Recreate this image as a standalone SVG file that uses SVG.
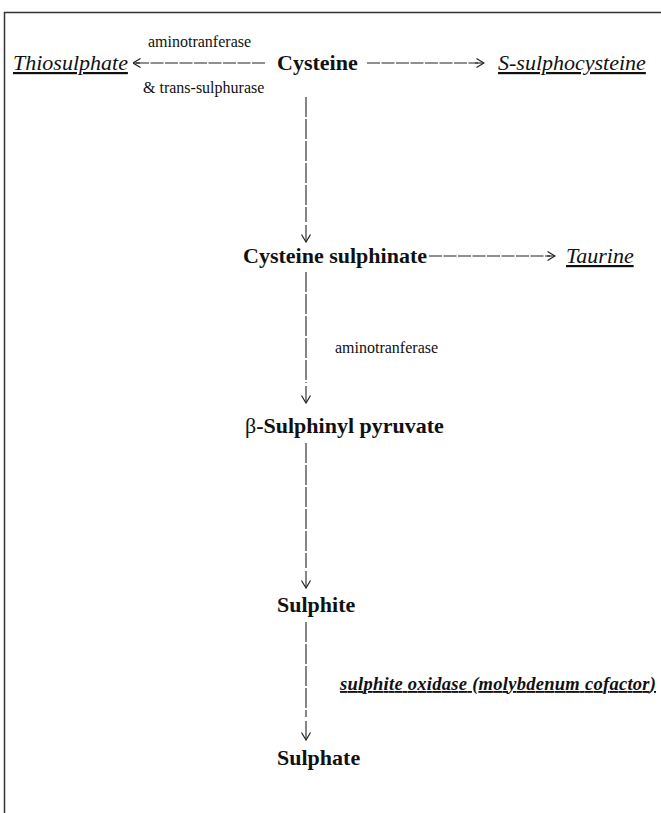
<svg xmlns="http://www.w3.org/2000/svg" width="661" height="813" viewBox="0 0 661 813">
<style>
text{font-family:"Liberation Serif","Times New Roman",serif;fill:#111}
.node{font-size:22px;font-weight:bold}
.prod{font-size:22px;font-style:italic;text-decoration:underline}
.enz{font-size:16px}
.dash{stroke:#222;stroke-width:1.1;fill:none;stroke-dasharray:20 2}
.hdash{stroke:#222;stroke-width:1.1;fill:none;stroke-dasharray:13 1.5}
.solid{stroke:#222;stroke-width:1.1;fill:none}
</style>
<defs>
<marker id="ah" viewBox="0 0 10 10" refX="9.5" refY="5" markerWidth="10" markerHeight="10" markerUnits="userSpaceOnUse" orient="auto">
<path d="M2,0.5 L9.5,5 L2,9.5" fill="none" stroke="#222" stroke-width="1.2"/>
</marker>
</defs>
<rect width="661" height="813" fill="#fff"/>
<path d="M4.5,813 V12.5 H661" fill="none" stroke="#333" stroke-width="1.5"/>

<g id="connectors">
<line class="hdash" x1="265" y1="63" x2="135" y2="63"/>
<line class="solid" x1="140" y1="63" x2="133" y2="63" marker-end="url(#ah)"/>
<line class="hdash" x1="367" y1="63" x2="478" y2="63"/>
<line class="solid" x1="475" y1="63" x2="484" y2="63" marker-end="url(#ah)"/>
<line class="hdash" x1="429" y1="256" x2="550" y2="256"/>
<line class="solid" x1="547" y1="256" x2="555" y2="256" marker-end="url(#ah)"/>

<line class="dash" x1="306" y1="97" x2="306" y2="222"/>
<line class="solid" x1="306" y1="225" x2="306" y2="242" marker-end="url(#ah)"/>
<line class="dash" x1="306" y1="272" x2="306" y2="383"/>
<line class="solid" x1="306" y1="386" x2="306" y2="403" marker-end="url(#ah)"/>
<line class="dash" x1="306" y1="443" x2="306" y2="568"/>
<line class="solid" x1="306" y1="571" x2="306" y2="588" marker-end="url(#ah)"/>
<line class="dash" x1="306" y1="622" x2="306" y2="717"/>
<line class="solid" x1="306" y1="721" x2="306" y2="740" marker-end="url(#ah)"/>
</g>

<g id="enzyme-top">
<text class="enz" x="148" y="47">aminotranferase</text>
<text class="enz" x="143" y="93">&amp; trans-sulphurase</text>
</g>
<g id="thiosulphate"><text class="prod" x="13" y="70">Thiosulphate</text></g>
<g id="cysteine"><text class="node" x="277" y="70">Cysteine</text></g>
<g id="s-sulphocysteine"><text class="prod" x="498" y="70">S-sulphocysteine</text></g>
<g id="cysteine-sulphinate"><text class="node" x="243" y="263">Cysteine sulphinate</text></g>
<g id="taurine"><text class="prod" x="566" y="263">Taurine</text></g>
<g id="enzyme-mid"><text class="enz" x="335" y="353" font-size="16.5">aminotranferase</text></g>
<g id="sulphinyl-pyruvate"><text class="node" x="245" y="433"><tspan font-weight="normal">β</tspan>-Sulphinyl pyruvate</text></g>
<g id="sulphite"><text class="node" x="277" y="612">Sulphite</text></g>
<g id="enzyme-bottom"><text x="340" y="690" font-size="18.5" font-weight="bold" font-style="italic" text-decoration="underline" textLength="316">sulphite oxidase (molybdenum cofactor)</text></g>
<g id="sulphate"><text class="node" x="277" y="765">Sulphate</text></g>
</svg>
